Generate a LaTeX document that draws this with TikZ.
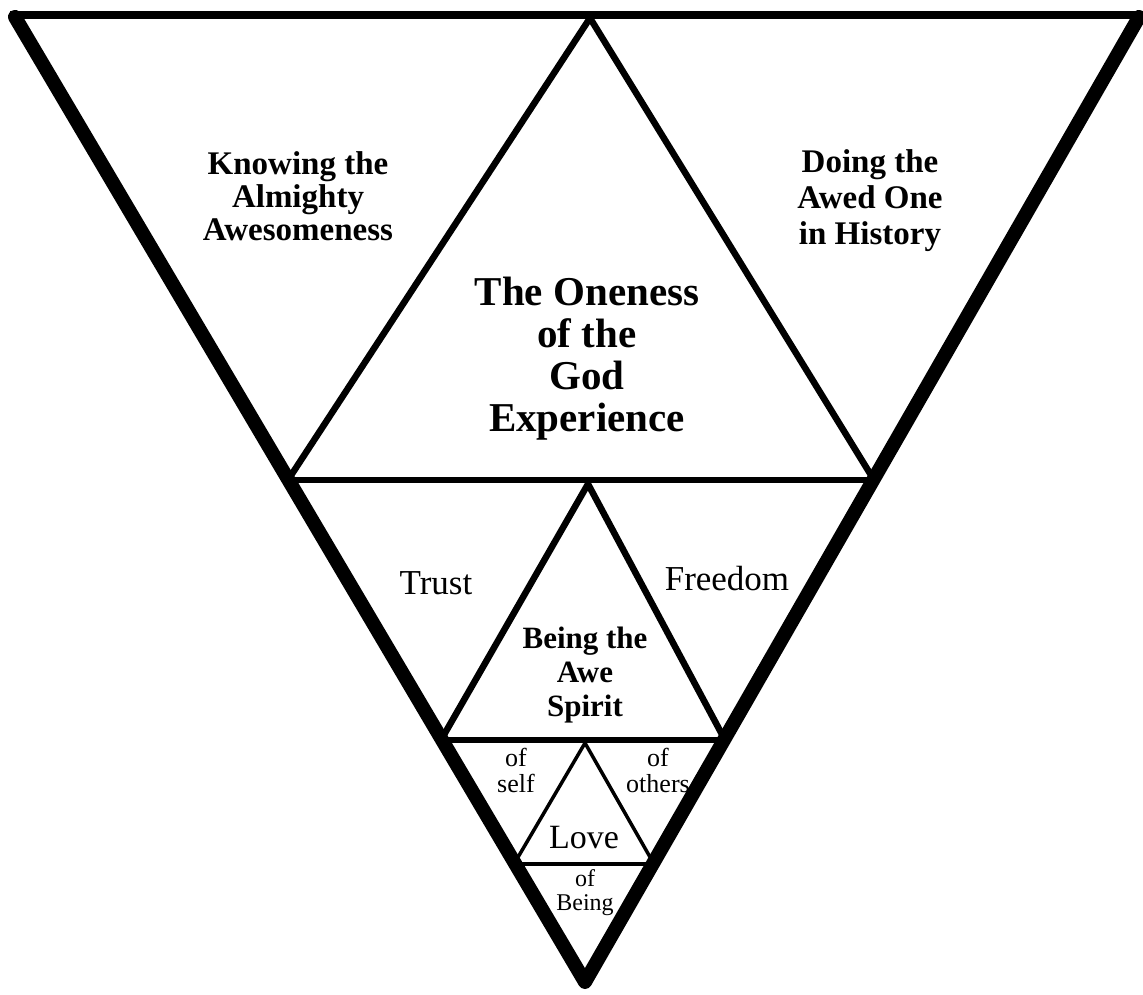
\documentclass[tikz,border=0pt]{standalone}
\usepackage{fontspec}
\setmainfont{Liberation Serif}
\begin{document}
\begin{tikzpicture}[x=1pt,y=-1pt,
  outer/.style={line width=14pt,line join=round,line cap=round},
  topline/.style={line width=8pt},
  midline/.style={line width=6.5pt,line join=miter},
  hline/.style={line width=5.5pt},
  thinline/.style={line width=3.5pt,line join=miter},
  lbl/.style={inner sep=0pt,align=center,text=black}]
\useasboundingbox (0,0) rectangle (1143,994);
% outer triangle
\coordinate (TL) at (15,17);
\coordinate (TR) at (1139,17);
\coordinate (B) at (585,982);
% level lines
\coordinate (L1) at (288,480);
\coordinate (R1) at (874,480);
\coordinate (L2) at (441,740);
\coordinate (R2) at (725,740);
\coordinate (L3) at (514,864);
\coordinate (R3) at (654,864);
% apexes
\coordinate (A1) at (590,18);
\coordinate (A2) at (588,484);
\coordinate (A3) at (585,743);
% drawing
\draw[topline] (10,15) -- (1143,15);
\draw[midline] (L1) -- (A1) -- (R1);
\draw[hline] (L1) -- (R1);
\draw[midline] (L2) -- (A2) -- (R2);
\draw[hline] (L2) -- (R2);
\draw[thinline] (L3) -- (A3) -- (R3);
\draw[line width=3.5pt] (L3) -- (R3);
\draw[outer] (TL) -- (B) -- (TR);
% texts
\node[lbl,font=\fontsize{33}{33}\selectfont\bfseries] (know) at (298,196) {Knowing the\\Almighty\\Awesomeness};
\node[lbl,font=\fontsize{33}{36}\selectfont\bfseries] (doing) at (870,201) {Doing the\\Awed One\\in History};
\node[lbl,font=\fontsize{41}{42}\selectfont\bfseries] (one) at (587,359) {The Oneness\\of the\\God\\Experience};
\node[lbl,font=\fontsize{35}{34}\selectfont] (trust) at (436,583) {Trust};
\node[lbl,font=\fontsize{35}{34}\selectfont] (free) at (727,579) {Freedom};
\node[lbl,font=\fontsize{31}{34}\selectfont\bfseries] (being) at (585,675) {Being the\\Awe\\Spirit};
\node[lbl,font=\fontsize{26}{26}\selectfont] (self) at (516,770) {of\\self};
\node[lbl,font=\fontsize{26}{26}\selectfont] (others) at (658,770) {of\\others};
\node[lbl,font=\fontsize{34}{34}\selectfont] (love) at (584,838) {Love};
\node[lbl,font=\fontsize{24}{24}\selectfont] (ofbeing) at (585,893) {of\\Being};
\end{tikzpicture}
\end{document}
